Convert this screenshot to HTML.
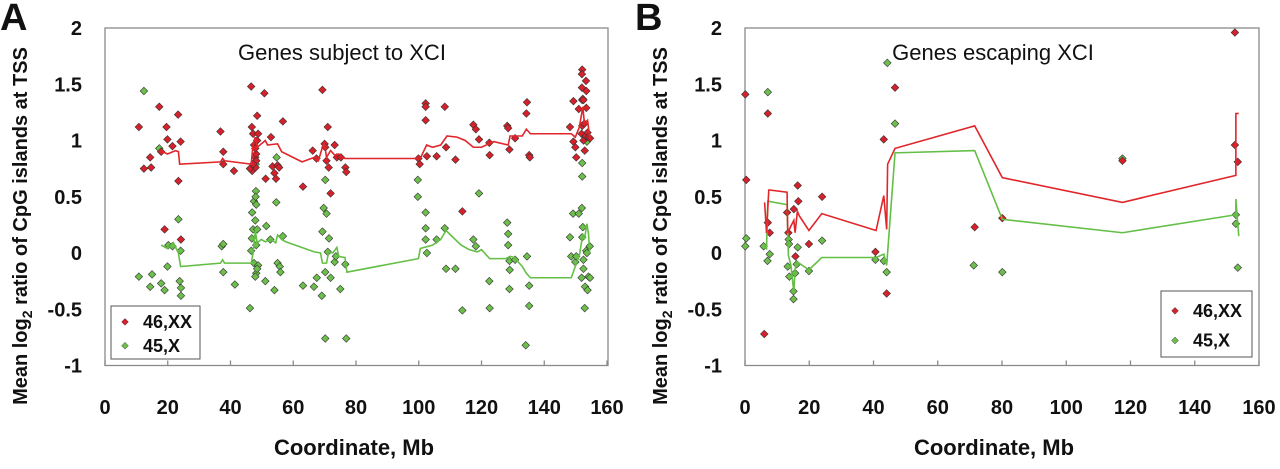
<!DOCTYPE html>
<html><head><meta charset="utf-8"><style>
body{margin:0;background:#fff;}
svg text{font-family:"Liberation Sans",sans-serif;}
</style></head><body>
<svg id="chart" width="1280" height="464" viewBox="0 0 1280 464" xmlns="http://www.w3.org/2000/svg"></svg>
<script>
// ---- Data ----
const xTicks = [0,20,40,60,80,100,120,140,160];
const yTicks = [2,1.5,1,0.5,0,-0.5,-1];
const yTickLabels = ["2","1.5","1","0.5","0","-0.5","-1"];
const seriesNames = ["46,XX","45,X"];

const aRedLine = [[17.7,0.91],[19.9,0.88],[22.5,0.91],[23.4,0.90],[23.8,0.79],[36.8,0.81],[37.5,0.84],[38.1,0.82],[46.6,0.79],[47.2,0.97],[47.9,1.03],[48.5,0.94],[51.1,1.00],[51.8,0.96],[55.0,0.97],[56.3,0.90],[62.8,0.81],[66.7,0.85],[68.0,0.82],[69.3,0.94],[70.0,0.97],[70.6,0.85],[71.9,0.91],[73.2,0.87],[74.5,0.88],[76.5,0.84],[100.5,0.84],[102.5,0.96],[104.4,0.94],[107.0,0.96],[109.0,1.04],[112.2,1.03],[114.8,1.00],[117.4,0.94],[120.0,0.94],[123.9,0.99],[128.5,0.96],[129.1,1.04],[133.0,1.04],[134.3,1.10],[135.6,1.06],[148.6,1.06],[149.9,1.03],[151.2,1.12],[152.3,1.30],[152.8,1.15],[153.8,1.18],[154.5,1.03]];
const aGreenLine = [[17.9,0.07],[19.9,0.04],[21.8,0.09],[23.4,0.0],[24.1,-0.12],[36.8,-0.09],[37.5,-0.06],[38.1,-0.09],[46.6,-0.09],[47.2,0.0],[47.9,0.20],[48.5,0.09],[49.8,0.12],[51.1,0.10],[53.1,0.12],[54.4,0.09],[55.0,0.16],[56.3,0.12],[57.6,0.10],[66.7,0.01],[68.7,0.0],[69.3,-0.09],[70.6,-0.09],[71.3,0.01],[72.6,0.0],[73.9,0.05],[74.5,-0.03],[76.5,-0.04],[77.1,-0.17],[99.9,-0.05],[100.5,0.04],[104.4,0.07],[107.0,0.12],[108.7,0.20],[110.9,0.14],[113.5,0.07],[116.1,0.03],[118.7,0.01],[120.0,0.03],[122.6,-0.05],[127.8,-0.05],[129.1,-0.03],[130.4,-0.04],[133.0,-0.12],[134.3,-0.18],[135.6,-0.22],[148.6,-0.22],[149.9,-0.12],[151.2,-0.02],[152.3,0.17],[152.8,0.12],[153.6,0.26],[154.1,0.17],[154.5,0.0]];
const aRedPts = [[10.8,1.12],[12.4,0.75],[14.4,0.85],[14.7,0.76],[17.3,1.30],[17.9,0.90],[19.6,1.12],[19.9,1.01],[21.5,0.95],[23.3,1.23],[23.4,0.64],[24.1,0.99],[19.0,0.21],[24.2,0.12],[36.8,1.08],[37.7,0.90],[37.7,0.79],[41.1,0.73],[46.6,1.48],[46.8,1.12],[47.2,1.06],[47.5,0.96],[47.9,0.85],[46.9,0.73],[46.2,0.75],[48.0,0.76],[48.2,0.88],[48.5,1.22],[48.8,1.06],[48.5,1.00],[47.9,0.93],[48.2,0.82],[47.2,0.79],[50.8,1.42],[51.2,0.66],[52.9,1.03],[53.4,0.77],[54.0,0.71],[54.5,0.66],[55.0,0.78],[55.5,0.76],[56.7,1.17],[63.1,0.59],[66.2,0.91],[67.4,0.84],[69.3,1.45],[70.0,0.97],[70.2,0.94],[70.6,0.82],[71.0,1.12],[71.3,0.76],[71.9,0.53],[73.2,0.96],[73.9,0.85],[75.2,0.85],[76.6,0.76],[76.9,0.72],[99.9,0.84],[100.3,0.79],[102.2,1.33],[102.2,1.30],[102.2,1.18],[102.6,0.86],[105.7,0.86],[108.3,1.30],[108.7,0.94],[111.7,0.83],[113.9,0.37],[117.4,1.14],[118.2,1.10],[119.2,1.01],[122.5,0.98],[122.6,0.87],[128.2,1.13],[128.5,1.11],[128.9,0.92],[130.7,1.02],[134.5,1.34],[134.3,1.24],[135.2,0.87],[135.4,0.85],[148.2,1.12],[149.3,1.35],[149.3,0.99],[149.9,0.94],[150.2,0.85],[151.0,1.28],[152.0,1.47],[152.1,1.63],[152.0,1.59],[152.1,1.36],[152.3,1.37],[152.5,1.36],[153.3,1.53],[153.4,1.44],[152.1,1.13],[151.9,1.06],[152.5,1.00],[152.9,0.91],[153.2,1.04],[153.8,1.07],[154.1,1.03],[154.6,1.02],[152.8,1.15],[153.4,1.29]];
const aGreenPts = [[12.4,1.44],[17.3,0.93],[10.8,-0.21],[15.0,-0.19],[14.4,-0.30],[17.9,-0.27],[19.0,-0.33],[19.9,-0.12],[20.2,0.07],[21.5,0.06],[23.4,0.30],[23.8,-0.25],[24.2,-0.31],[24.2,-0.38],[24.1,0.02],[37.2,0.06],[37.7,0.08],[37.7,-0.17],[41.4,-0.28],[46.2,-0.49],[46.6,0.02],[46.8,0.13],[47.2,0.21],[46.9,0.36],[47.5,0.46],[48.1,0.55],[48.0,0.50],[48.2,0.43],[47.9,0.29],[48.5,0.21],[48.2,0.07],[47.5,-0.09],[48.2,-0.18],[47.9,-0.21],[48.8,-0.11],[48.5,-0.14],[48.0,0.79],[51.1,-0.25],[51.4,0.24],[52.7,0.12],[54.0,-0.33],[54.6,0.45],[55.0,-0.09],[55.7,-0.12],[55.9,-0.17],[56.7,0.15],[54.7,0.85],[63.1,-0.29],[66.6,-0.30],[67.5,-0.22],[69.1,-0.38],[69.3,0.19],[69.7,0.40],[70.2,0.65],[70.6,0.35],[71.0,0.01],[70.2,-0.17],[71.4,0.13],[71.9,-0.22],[73.2,-0.08],[73.6,-0.03],[75.0,-0.32],[76.6,-0.10],[70.2,-0.76],[76.9,-0.76],[99.7,0.65],[99.7,0.50],[102.2,0.36],[102.2,0.22],[102.2,0.12],[102.6,0.0],[105.7,0.12],[108.3,0.22],[108.7,-0.14],[111.7,-0.14],[113.9,-0.51],[119.2,0.53],[117.4,0.12],[118.2,0.06],[122.5,-0.25],[122.6,-0.49],[128.2,0.27],[128.5,0.17],[128.5,0.07],[128.9,-0.07],[129.0,-0.15],[128.9,-0.32],[130.7,-0.06],[134.5,-0.03],[135.2,-0.29],[135.2,-0.47],[134.1,-0.82],[148.2,0.14],[148.6,-0.03],[149.2,0.35],[149.9,-0.08],[150.2,-0.03],[151.0,0.35],[151.9,-0.22],[152.0,0.40],[152.1,0.68],[152.3,0.23],[152.1,0.14],[152.5,-0.06],[152.5,-0.14],[152.9,-0.49],[153.0,-0.30],[153.4,0.02],[153.6,0.0],[153.8,-0.33],[154.1,-0.21],[154.5,0.06],[154.6,-0.22],[153.6,0.99],[152.1,0.80]];

const bRedLine = [[6.1,0.45],[6.7,0.18],[7.4,0.56],[7.7,0.56],[13.1,0.54],[13.3,0.18],[14.3,0.24],[15.2,0.29],[15.6,0.18],[16.3,0.37],[16.9,0.33],[19.9,0.20],[23.9,0.35],[40.8,0.20],[43.2,0.51],[44.1,0.21],[44.4,0.79],[46.7,0.93],[71.5,1.13],[80.1,0.67],[117.5,0.45],[152.8,0.69],[152.8,1.24],[153.7,1.24]];
const bGreenLine = [[6.1,0.06],[6.7,0.04],[7.1,0.46],[13.1,0.43],[13.5,-0.02],[14.3,-0.11],[15.2,-0.35],[15.6,-0.14],[16.3,-0.08],[19.9,-0.15],[23.9,-0.04],[40.8,-0.04],[43.2,-0.01],[44.1,-0.11],[46.7,0.89],[71.5,0.91],[80.1,0.30],[117.5,0.18],[152.8,0.34],[152.8,0.48],[153.7,0.15]];
const bRedPts = [[0.1,1.41],[0.4,0.65],[6.0,-0.72],[7.1,1.24],[7.7,0.18],[13.5,0.18],[15.2,0.39],[15.7,-0.03],[16.4,0.60],[16.6,0.46],[19.9,0.08],[24.0,0.50],[40.6,0.01],[43.2,1.01],[44.1,-0.36],[46.7,1.47],[71.5,0.23],[80.1,0.31],[117.5,0.82],[152.5,1.96],[152.5,0.96],[153.4,0.81],[7.1,0.27],[13.1,0.36]];
const bGreenPts = [[0.1,0.06],[0.4,0.13],[5.8,0.06],[7.0,-0.07],[7.1,1.43],[7.7,-0.01],[13.3,-0.12],[13.6,0.12],[13.7,0.08],[13.8,-0.21],[15.1,-0.34],[15.1,-0.41],[15.6,-0.18],[16.1,-0.10],[16.4,0.05],[19.9,-0.16],[24.0,0.11],[40.6,-0.06],[43.2,-0.07],[44.1,-0.17],[44.3,1.69],[46.7,1.15],[71.2,-0.11],[80.1,-0.17],[117.5,0.84],[152.8,0.34],[152.8,0.26],[153.4,-0.13]];

// ---- Drawing ----
const NS = "http://www.w3.org/2000/svg";
const svg = document.getElementById("chart");
function mk(tag, attrs, parent, text){
  const e = document.createElementNS(NS, tag);
  for (const k in attrs) e.setAttribute(k, attrs[k]);
  if (text !== undefined) e.textContent = text;
  (parent || svg).appendChild(e);
  return e;
}
const RED = "#d8202a", GREEN = "#6cbf4a", RLINE = "#e0262a", GLINE = "#63bf45";

function panel(cfg){
  const g = mk("g", {});
  
  
  const x = v => cfg.x0 + v * (cfg.x1 - cfg.x0) / 160;
  const y = v => cfg.yZero - v * (cfg.yZero - cfg.yTop) / 2;
  const box = mk("rect", {x: cfg.x0, y: cfg.yTop, width: cfg.boxR - cfg.x0, height: y(-1) - cfg.yTop, fill: "none", stroke: "#8a8a8a", "stroke-width": 1.3}, g);
  
  
  xTicks.forEach(t => {
    mk("line", {x1: x(t), x2: x(t), y1: y(-1), y2: y(-1) - 5, stroke: "#8a8a8a", "stroke-width": 1.3}, g);
    const tl = mk("text", {x: x(t), y: 414, "text-anchor": "middle", "font-size": 20, "font-weight": "bold", fill: "#111"}, g, String(t));
    
    
  });
  yTicks.forEach((t, i) => {
    const tl = mk("text", {x: cfg.yLabX, y: y(t) + 7, "text-anchor": "end", "font-size": 20, "font-weight": "bold", fill: "#111"}, g, yTickLabels[i]);
    
    
  });
  const yt = mk("text", {transform: `translate(${cfg.yTitleX},226) rotate(-90)`, "text-anchor": "middle", "font-size": 20, "font-weight": "bold", fill: "#111"}, g);
  
  
  mk("tspan", {}, yt, "Mean log");
  mk("tspan", {dy: 5, "font-size": 14}, yt, "2");
  mk("tspan", {dy: -5}, yt, " ratio of CpG islands at TSS");
  const xt = mk("text", {x: cfg.xTitleX, y: 455, "text-anchor": "middle", "font-size": 22, "font-weight": "bold", fill: "#111"}, g, "Coordinate, Mb");
  
  
  const ti = mk("text", {x: cfg.titleX, y: 60, "text-anchor": "middle", "font-size": 22, fill: "#111"}, g, cfg.title);
  
  
  const pl = mk("text", {x: cfg.letterX, y: 30, "font-size": 38, "font-weight": "bold", fill: "#111"}, g, cfg.letter);
  
  

  function diamond(p, col, parent){
    const cx = x(p[0]), cy = y(p[1]), r = 3.8;
    return mk("path", {d: `M${cx} ${cy-r}L${cx+r} ${cy}L${cx} ${cy+r}L${cx-r} ${cy}Z`, fill: col, stroke: "#333", "stroke-width": 0.6}, parent);
  }
  const gs = mk("g", {}, g);
  
  
  cfg.green.forEach(p => { const d = diamond(p, GREEN, gs);   });
  const rs = mk("g", {}, g);
  
  
  cfg.red.forEach(p => { const d = diamond(p, RED, rs);   });
  const gl = mk("polyline", {points: cfg.greenLine.map(p => x(p[0]) + "," + y(p[1])).join(" "), fill: "none", stroke: GLINE, "stroke-width": 1.6}, g);
  
  
  const rl = mk("polyline", {points: cfg.redLine.map(p => x(p[0]) + "," + y(p[1])).join(" "), fill: "none", stroke: RLINE, "stroke-width": 1.6}, g);
  
  

  const lg = mk("g", {}, g);
  
  
  const L = cfg.legend;
  mk("rect", {x: L.x, y: L.y, width: L.w, height: L.h, fill: "#fff", stroke: "#555", "stroke-width": 1}, lg);
  [RED, GREEN].forEach((c, i) => {
    const cy = L.y + L.h * (i === 0 ? 0.3 : 0.75), cx = L.x + 14, r = 3.4;
    const e = mk("g", {}, lg);
    
    
    mk("path", {d: `M${cx} ${cy-r}L${cx+r} ${cy}L${cx} ${cy+r}L${cx-r} ${cy}Z`, fill: c, stroke: "#333", "stroke-width": 0.5}, e);
    mk("text", {x: cx + 18, y: cy + 6, "font-size": 18, "font-weight": "bold", fill: "#111"}, e, seriesNames[i]);
  });
}

panel({name: "panel-a-subject-to-xci", x0: 105, x1: 607, boxR: 608, yTop: 28, yZero: 253, yLabX: 82, yTitleX: 27, xTitleX: 354, titleX: 342, title: "Genes subject to XCI", letter: "A", letterX: 0,
  red: aRedPts, green: aGreenPts, redLine: aRedLine, greenLine: aGreenLine, legend: {x: 111, y: 306, w: 89, h: 53}});
panel({name: "panel-b-escaping-xci", x0: 745, x1: 1259, boxR: 1259, yTop: 28, yZero: 253, yLabX: 722, yTitleX: 667, xTitleX: 994, titleX: 993, title: "Genes escaping XCI", letter: "B", letterX: 635,
  red: bRedPts, green: bGreenPts, redLine: bRedLine, greenLine: bGreenLine, legend: {x: 1161, y: 291, w: 91, h: 66}});
</script>
</body></html>
